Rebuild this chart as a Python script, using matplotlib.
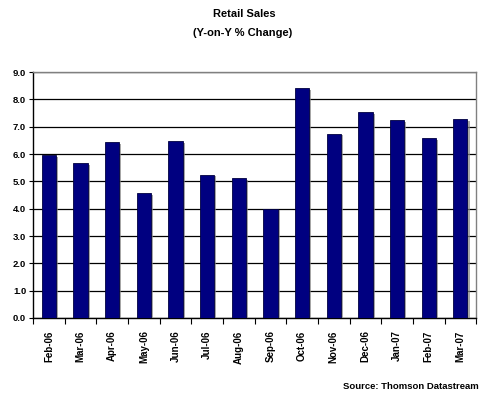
import matplotlib
matplotlib.use("Agg")
import matplotlib.pyplot as plt
import matplotlib.patheffects as pe
import numpy as np

months = ["Feb-06", "Mar-06", "Apr-06", "May-06", "Jun-06", "Jul-06", "Aug-06",
          "Sep-06", "Oct-06", "Nov-06", "Dec-06", "Jan-07", "Feb-07", "Mar-07"]
values = [5.95, 5.66, 6.43, 4.56, 6.47, 5.23, 5.11, 3.99, 8.41, 6.73, 7.53, 7.24, 6.58, 7.27]
yticks = [0.0, 1.0, 2.0, 3.0, 4.0, 5.0, 6.0, 7.0, 8.0, 9.0]

plt.rcParams['font.family'] = ['Liberation Sans', 'DejaVu Sans']

fig = plt.figure(figsize=(4.8, 3.96), dpi=100)
ax = fig.add_axes([0.069, 0.197, 0.923, 0.621])

x = np.arange(len(months))
bars = ax.bar(x, values, width=0.45, color='#000080', edgecolor='#000040', linewidth=0.6, zorder=3)
for b in bars:
    b.set_path_effects([pe.SimplePatchShadow(offset=(1.5, -1), shadow_rgbFace='#808080', alpha=0.7), pe.Normal()])

ax.set_xlim(-0.5, len(months) - 0.5)
ax.set_ylim(0, 9)
ax.set_yticks(yticks)
ax.set_yticklabels([f"{v:.1f}" for v in yticks], fontsize=6.8, fontweight='bold')
ax.yaxis.grid(True, color='black', linewidth=0.9, zorder=1)
ax.set_axisbelow(True)

ax.set_xticks(x)
ax.set_xticklabels(months, rotation=90, fontsize=7, fontweight='bold')
ax.tick_params(axis='x', length=0, pad=9)
ax.set_xticks(np.arange(-0.5, len(months), 1.0), minor=True)
ax.tick_params(axis='x', which='minor', length=4, width=0.8, direction='out', color='black')
ax.tick_params(axis='y', length=3, width=0.8, direction='out', pad=2)

for s in ['top', 'right']:
    ax.spines[s].set_color('#808080')
    ax.spines[s].set_linewidth(1.0)
for s in ['left', 'bottom']:
    ax.spines[s].set_color('black')
    ax.spines[s].set_linewidth(1.0)

fig.text(0.51, 0.965, "Retail Sales", ha='center', va='center', fontsize=8, fontweight='bold')
fig.text(0.505, 0.917, "(Y-on-Y % Change)", ha='center', va='center', fontsize=8, fontweight='bold')
fig.text(0.998, 0.025, "Source: Thomson Datastream", ha='right', va='center', fontsize=6.8, fontweight='bold')

fig.savefig("out.png", dpi=100)
